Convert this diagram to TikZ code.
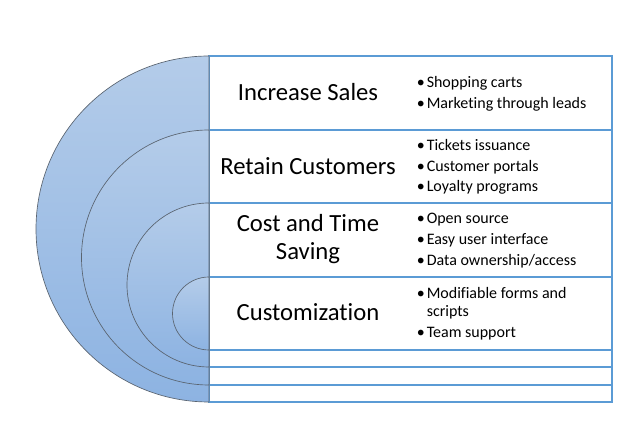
\documentclass[tikz,border=0pt]{standalone}
\usepackage{fontspec}
\setmainfont{Carlito}[Ligatures=NoCommon]
\usetikzlibrary{positioning}
\definecolor{ringtop}{HTML}{B4CCE9}
\definecolor{ringbot}{HTML}{8DB3E2}
\definecolor{ringline}{HTML}{5A6470}
\definecolor{rowline}{HTML}{5B9BD5}
\newcommand{\pointmark}{\makebox[7.5pt][l]{\textbullet}}
\tikzset{
    ring/.style={
        draw=ringline, line width=0.5pt,
        top color=ringtop, bottom color=ringbot
    },
    grid/.style={draw=rowline, line width=0.8pt},
    title/.style={
        align=center, inner sep=0pt,
        font=\fontsize{18.5}{21}\selectfont
    },
    points/.style={
        anchor=west, align=left, inner sep=0pt,
        font=\fontsize{12}{13.5}\selectfont
    }
}
\begin{document}
\begin{tikzpicture}[x=0.75pt, y=0.75pt]
    \useasboundingbox (0,0) rectangle (640,438);

    % Rows
    \draw[grid] (209,36) rectangle (612,382);
    \foreach \y in {308,235,161,88,71,53}
        \draw[grid] (209,\y) -- (612,\y);

    % Half rings
    \foreach \t/\r in {382/173, 308/127.5, 235/82, 161/36.5}
        \draw[ring] (209,\t) arc[start angle=90, end angle=270, radius=\r] -- cycle;

    % Titles
    \node[title] (sales) at (308,346) {Increase Sales};
    \node[title] (retain) at (308,272) {Retain Customers};
    \node[title] (saving) at (308,199) {Cost and Time\\Saving};
    \node[title] (custom) at (308,126) {Customization};

    % Points
    \node[points] (salesPts) at (416.5,344.5) {\pointmark Shopping carts\\[2pt]
        \pointmark Marketing through leads};
    \node[points] (retainPts) at (416.5,271) {\pointmark Tickets issuance\\[2pt]
        \pointmark Customer portals\\[2pt]
        \pointmark Loyalty programs};
    \node[points] (savingPts) at (416.5,197.5) {\pointmark Open source\\[2pt]
        \pointmark Easy user interface\\[2pt]
        \pointmark Data ownership/access};
    \node[points] (customPts) at (416.5,124.5) {\pointmark Modifiable forms and\\
        \hspace*{7.5pt}scripts\\[2pt]
        \pointmark Team support};
\end{tikzpicture}
\end{document}
